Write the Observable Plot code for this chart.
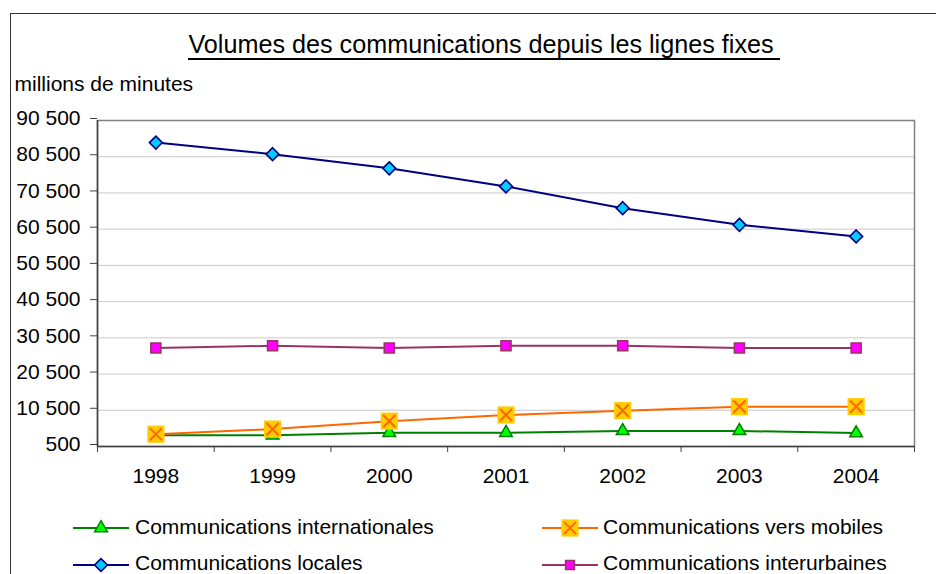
<!DOCTYPE html>
<html>
<head>
<meta charset="utf-8">
<script src="https://cdn.jsdelivr.net/npm/d3@7"></script>
<script src="https://cdn.jsdelivr.net/npm/@observablehq/plot@0.6"></script>
<style>
  html, body { margin: 0; padding: 0; background: #fff; overflow: hidden; }
  #wrap { position: relative; width: 936px; height: 574px; overflow: hidden; font-family: "Liberation Sans", Arial, sans-serif; color: #000; }
  #wrap > * { position: absolute; }
  #border { left: 10px; top: 13px; width: 1000px; height: 1000px; border-top: 1.3px solid #333; border-left: 1.3px solid #333; }
  #chart { left: 0; top: 0; }
  #title { left: 0; top: 31.7px; width: 968px; text-align: center; font-size: 25.2px; line-height: 25.2px; }
  #title span { display: inline-block; border-bottom: 2px solid #000; padding-bottom: 1.5px; padding-right: 6px; }
  #unit { left: 14.5px; top: 73.2px; font-size: 21px; line-height: 21px; white-space: nowrap; }
  .lg { font-size: 21px; line-height: 21px; white-space: nowrap; }
</style>
</head>
<body>
<div id="wrap">
  <div id="border"></div>
  <div id="chart"></div>
  <div id="title"><span>Volumes des communications depuis les lignes fixes</span></div>
  <div id="unit">millions de minutes</div>
</div>
<script>
// ---- data ----
const years = [1998, 1999, 2000, 2001, 2002, 2003, 2004];
const internationales = [3600, 3600, 4300, 4300, 4800, 4800, 4200];
const mobiles = [3900, 5300, 7500, 9200, 10400, 11500, 11500];
const locales = [84400, 81200, 77300, 72300, 66300, 61700, 58500];
const interurbaines = [27700, 28300, 27700, 28300, 28300, 27700, 27700];
const yTicks = [500, 10500, 20500, 30500, 40500, 50500, 60500, 70500, 80500, 90500];
const seriesNames = [
  "Communications internationales",
  "Communications vers mobiles",
  "Communications locales",
  "Communications interurbaines"
];

// ---- styles ----
const styles = {
  "Communications internationales": { line: "#008000", marks: [{symbol: "triangle", r: 4.7, fill: "#00ff00", stroke: "#008000", strokeWidth: 1.5}] },
  "Communications vers mobiles": { line: "#ff6600", marks: [{symbol: "square", r: 9.7, fill: "#ffcc00", stroke: "none"}, {symbol: "times", r: 5.6, fill: "none", stroke: "#ff6600", strokeWidth: 2}] },
  "Communications locales": { line: "#000080", marks: [{symbol: "diamond2", r: 5.8, fill: "#00ccff", stroke: "#000080", strokeWidth: 1.6}] },
  "Communications interurbaines": { line: "#993366", marks: [{symbol: "square", r: 5.7, fill: "#ff00ff", stroke: "#993366", strokeWidth: 1.5}] }
};
const values = {
  "Communications internationales": internationales,
  "Communications vers mobiles": mobiles,
  "Communications locales": locales,
  "Communications interurbaines": interurbaines
};

const xMin = years[0] - 0.5, xMax = years[years.length - 1] + 0.5;
const boundaries = years.map(y => y - 0.5).concat([xMax]);
const fmt = d => d3.format(",")(d).replace(/,/g, " ");

const seriesMarks = [];
for (const name of seriesNames) {
  const data = years.map((year, i) => ({year, value: values[name][i]}));
  const st = styles[name];
  seriesMarks.push(Plot.lineY(data, {x: "year", y: "value", stroke: st.line, strokeWidth: 2}));
  for (const m of st.marks) {
    seriesMarks.push(Plot.dot(data, {x: "year", y: "value", ...m}));
  }
}

const chart = Plot.plot({
  width: 936,
  height: 574,
  marginTop: 120,
  marginBottom: 128,
  marginLeft: 97,
  marginRight: 22,
  style: {fontFamily: "'Liberation Sans', Arial, sans-serif", fontSize: "21px", color: "#000", background: "transparent", overflow: "visible"},
  x: {type: "linear", domain: [xMin, xMax]},
  y: {domain: [yTicks[0], yTicks[yTicks.length - 1]]},
  marks: [
    Plot.gridY({ticks: yTicks, stroke: "#c8c8c8", strokeOpacity: 1, strokeWidth: 1}),
    Plot.frame({stroke: "#808080", strokeWidth: 1.5}),
    Plot.ruleX([xMin], {stroke: "#404040", strokeWidth: 1.5}),
    Plot.ruleY([yTicks[0]], {stroke: "#404040", strokeWidth: 1.5}),
    Plot.axisY({ticks: yTicks, tickSize: 7, tickPadding: 10, tickFormat: fmt, label: null, stroke: "#404040", dy: -2}),
    Plot.axisX({ticks: boundaries, tickSize: 6, tickFormat: () => "", label: null, stroke: "#404040"}),
    Plot.axisX({ticks: years, tickSize: 0, tickPadding: 22, tickFormat: d => String(d), label: null}),
    ...seriesMarks
  ]
});
document.getElementById("chart").appendChild(chart);

// ---- legend ----
const wrap = document.getElementById("wrap");
const legendPos = [
  {name: seriesNames[0], sx: 73, tx: 135, row: 0},
  {name: seriesNames[1], sx: 542, tx: 603, row: 0},
  {name: seriesNames[2], sx: 73, tx: 135, row: 1},
  {name: seriesNames[3], sx: 542, tx: 603, row: 1}
];
const rowLineY = [528.3, 565];
const rowTextTop = [515.7, 552.2];
const symMap = {triangle: d3.symbolTriangle, square: d3.symbolSquare, times: d3.symbolTimes, diamond2: d3.symbolDiamond2};
for (const lp of legendPos) {
  const st = styles[lp.name];
  const svg = d3.create("svg").attr("width", 58).attr("height", 24)
    .style("position", "absolute").style("left", lp.sx + "px").style("top", (rowLineY[lp.row] - 12) + "px");
  svg.append("line").attr("x1", 0).attr("x2", 56).attr("y1", 12).attr("y2", 12).attr("stroke", st.line).attr("stroke-width", 2);
  for (const m of st.marks) {
    let r = m.r;
    if (lp.name === seriesNames[3]) r = 5;
    svg.append("path")
      .attr("transform", "translate(28,12)")
      .attr("d", d3.symbol(symMap[m.symbol], Math.PI * r * r)())
      .attr("fill", m.fill).attr("stroke", m.stroke).attr("stroke-width", m.strokeWidth || 0);
  }
  wrap.appendChild(svg.node());
  const t = document.createElement("div");
  t.className = "lg";
  t.style.left = lp.tx + "px";
  t.style.top = rowTextTop[lp.row] + "px";
  t.textContent = lp.name;
  wrap.appendChild(t);
}
</script>
</body>
</html>
